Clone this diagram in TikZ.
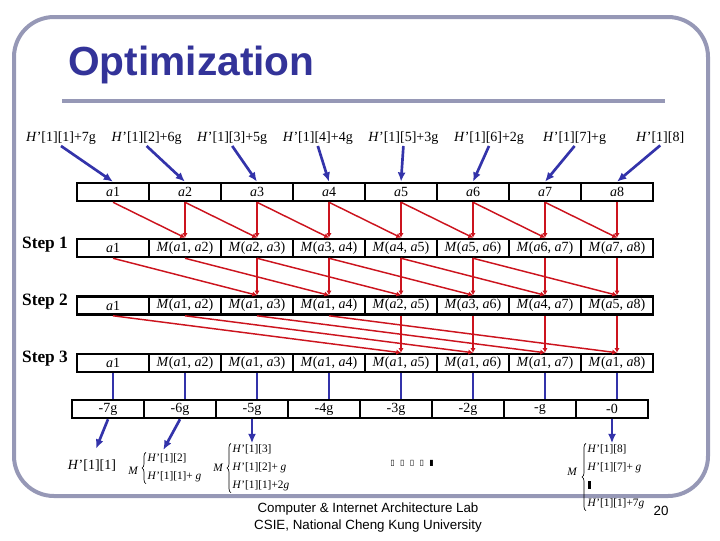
\documentclass[tikz,border=0pt]{standalone}
\usepackage{fontspec}
\setmainfont{Liberation Serif}
\setsansfont{Liberation Sans}
\newfontfamily\boxglyphs{DejaVu Sans}
\usetikzlibrary{arrows.meta, decorations.pathreplacing}
\definecolor{slideGray}{RGB}{150,152,182}
\definecolor{titleBlue}{RGB}{51,51,153}
\definecolor{pathBlue}{RGB}{51,51,170}
\definecolor{mergeRed}{RGB}{204,20,30}
\newcommand{\Hp}{\textit{H}'}
\newcommand{\av}[1]{\textit{a}#1}
\newcommand{\mg}[2]{\textit{M}(\av{#1}, \av{#2})}
\tikzset{%
  % Specifications for style of nodes:
     cell/.style = {rectangle, draw=black, line width=1.9pt,
                    minimum width=54pt, minimum height=13.5pt, inner sep=0pt,
                    font=\fontsize{10.5}{12}\selectfont},
     hLabel/.style = {inner sep=1pt, font=\fontsize{10.5}{12}\selectfont},
     stepLabel/.style = {inner sep=0pt, font=\fontsize{13}{15}\selectfont\bfseries},
     braceText/.style = {inner sep=1pt, anchor=west, align=left,
                         font=\fontsize{8.5}{13.5}\selectfont},
     mLabel/.style = {inner sep=0pt, font=\fontsize{8.5}{10}\selectfont\itshape},
  % Specifications for style of lines:
     mergeArrow/.style = {mergeRed, line width=1.1pt, -{Latex[length=3.5pt,width=4pt]}},
     pathArrow/.style = {pathBlue, line width=2pt, -{Latex[length=7pt,width=6pt]}},
     pathLine/.style = {pathBlue, line width=2.2pt},
     choiceBrace/.style = {black, line width=0.5pt, decorate,
                           decoration={brace, amplitude=3pt}},
}
\begin{document}
\begin{tikzpicture}[x=0.75pt, y=-0.75pt]
  \useasboundingbox (0,0) rectangle (720,540);
  % slide frame and title
  \draw[slideGray, line width=3pt, rounded corners=30pt] (14,17) rectangle (708,496);
  \draw[slideGray, line width=3.5pt] (62,101) -- (665,101);
  \node (title) [anchor=west, inner sep=0pt, text=titleBlue,
                 font=\sffamily\bfseries\fontsize{30.5}{34}\selectfont] at (68,65) {Optimization};

  % Specification of nodes (rows of the array)
  \foreach \txt [count=\i] in {{\Hp[1][1]+7g}, {\Hp[1][2]+6g}, {\Hp[1][3]+5g}, {\Hp[1][4]+4g},
                               {\Hp[1][5]+3g}, {\Hp[1][6]+2g}, {\Hp[1][7]+g}, {\Hp[1][8]}}
    \node (hLab\i) [hLabel] at ({61+85.6*(\i-1)},138) {\txt};
  \foreach \txt [count=\i] in {\av1, \av2, \av3, \av4, \av5, \av6, \av7, \av8}
    \node (rowA\i) [cell] at ({77+72*(\i-0.5)},192) {\txt};
  \foreach \txt [count=\i] in {\av1, \mg12, \mg23, \mg34, \mg45, \mg56, \mg67, \mg78}
    \node (stepOne\i) [cell] at ({77+72*(\i-0.5)},248) {\txt};
  \foreach \txt [count=\i] in {\av1, \mg12, \mg13, \mg14, \mg25, \mg36, \mg47, \mg58}
    \node (stepTwo\i) [cell] at ({77+72*(\i-0.5)},305.5) {\txt};
  \foreach \txt [count=\i] in {\av1, \mg12, \mg13, \mg14, \mg15, \mg16, \mg17, \mg18}
    \node (stepThree\i) [cell] at ({77+72*(\i-0.5)},363) {\txt};
  \foreach \txt [count=\i] in {-7g, -6g, -5g, -4g, -3g, -2g, -g, -0}
    \node (gRow\i) [cell] at ({72+72*(\i-0.5)},409) {\txt};

  \node (stepLabOne)   [stepLabel] at (45,245) {Step 1};
  \node (stepLabTwo)   [stepLabel] at (45,302) {Step 2};
  \node (stepLabThree) [stepLabel] at (45,359) {Step 3};

  % results below the array
  \node (hOne) [hLabel] at (92,466) {\Hp[1][1]};

  \node (listTwo) [braceText] at (146,468) {\Hp[1][2]\\ \Hp[1][1]+ \textit{g}};
  \node (mTwo) [mLabel] at (133,471) {M};
  \draw[choiceBrace] (listTwo.south west) -- (listTwo.north west);

  \node (listThree) [braceText] at (231,468)
        {\Hp[1][3]\\ \Hp[1][2]+ \textit{g}\\ \Hp[1][1]+2\textit{g}};
  \node (mThree) [mLabel] at (218,468) {M};
  \draw[choiceBrace] (listThree.south west) -- (listThree.north west);

  \node (skipDots) at (412,463) {\boxglyphs\fontsize{6}{7}\selectfont
         ▯\hspace{4pt}▯\hspace{4pt}▯\hspace{4pt}▯\hspace{4pt}▮};

  \node (listEight) [braceText] at (586,477)
        {\Hp[1][8]\\ \Hp[1][7]+ \textit{g}\\ \rule{2.5pt}{6pt}\\ \Hp[1][1]+7\textit{g}};
  \node (mEight) [mLabel] at (572,472) {M};
  \draw[choiceBrace] (listEight.south west) -- (listEight.north west);

  \node (footer) [align=center, font=\sffamily\fontsize{10}{12.75}\selectfont] at (368,518)
        {Computer \& Internet Architecture Lab\\ CSIE, National Cheng Kung University};
  \node (pageNo) [font=\sffamily\fontsize{10}{12}\selectfont] at (661,511) {20};

  % Specification of lines between nodes specified above
  \foreach \i in {1,...,8}
    \draw[pathArrow] (hLab\i.south) -- (rowA\i.north);

  \foreach \i in {2,...,8}
    \draw[mergeArrow] (rowA\i.south) -- (stepOne\i.north);
  \foreach \i in {1,...,7} {
    \pgfmathtruncatemacro\j{\i+1}
    \draw[mergeArrow] (rowA\i.south) -- (stepOne\j.north);
  }
  \foreach \i in {3,...,8}
    \draw[mergeArrow] (stepOne\i.south) -- (stepTwo\i.north);
  \foreach \i in {1,...,6} {
    \pgfmathtruncatemacro\j{\i+2}
    \draw[mergeArrow] (stepOne\i.south) -- (stepTwo\j.north);
  }
  \foreach \i in {5,...,8}
    \draw[mergeArrow] (stepTwo\i.south) -- (stepThree\i.north);
  \foreach \i in {1,...,4} {
    \pgfmathtruncatemacro\j{\i+4}
    \draw[mergeArrow] (stepTwo\i.south) -- (stepThree\j.north);
  }

  \foreach \i in {1,...,8}
    \draw[pathLine] (stepThree\i.south) -- (stepThree\i.south |- gRow\i.north);

  \draw[pathArrow, shorten >=8pt] (gRow1.south) -- (hOne.north);
  \draw[pathArrow, shorten >=2pt] (gRow2.south) -- ([xshift=12pt]listTwo.north west);
  \draw[pathArrow] (gRow3.south) -- (gRow3.south |- listThree.north);
  \draw[pathArrow] (gRow8.south) -- (gRow8.south |- listEight.north);
\end{tikzpicture}
\end{document}
